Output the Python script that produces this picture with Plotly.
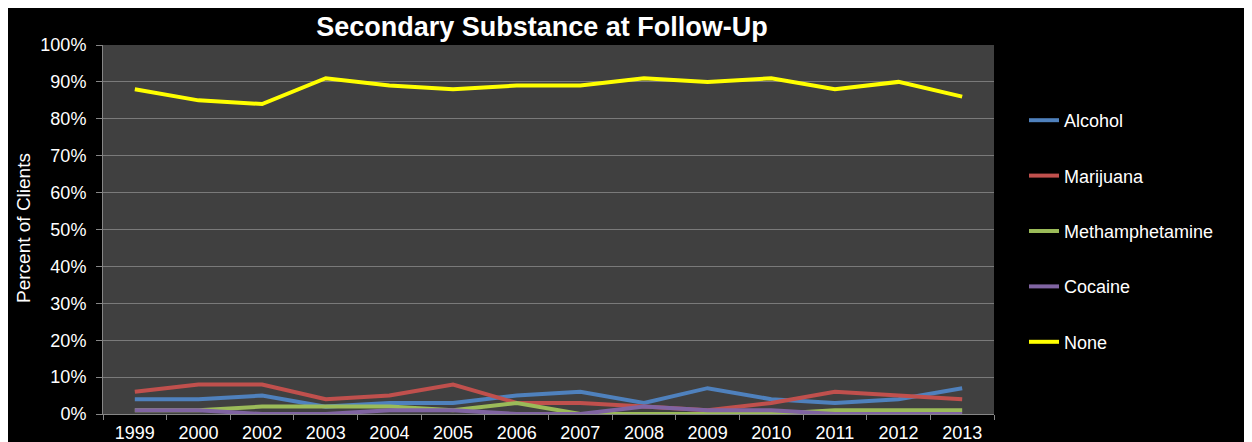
import plotly.graph_objects as go

years = ["1999", "2000", "2002", "2003", "2004", "2005", "2006",
         "2007", "2008", "2009", "2010", "2011", "2012", "2013"]
alcohol = [4, 4, 5, 2, 3, 3, 5, 6, 3, 7, 4, 3, 4, 7]
marijuana = [6, 8, 8, 4, 5, 8, 3, 3, 2, 1, 3, 6, 5, 4]
meth = [1, 1, 2, 2, 2, 1, 3, 0, 0, 0, 0, 1, 1, 1]
cocaine = [1, 1, 0, 0, 1, 1, 0, 0, 2, 1, 1, 0, 0, 0]
none_ = [88, 85, 84, 91, 89, 88, 89, 89, 91, 90, 91, 88, 90, 86]

series = [
    ("Alcohol", alcohol, "#4F81BD"),
    ("Marijuana", marijuana, "#C0504D"),
    ("Methamphetamine", meth, "#9BBB59"),
    ("Cocaine", cocaine, "#8064A2"),
    ("None", none_, "#FFFF00"),
]

FONT = "Arial, Liberation Sans, sans-serif"
OFF = 8  # page body margin
W, H = 1252 - OFF, 442 - OFF
L = 103 - OFF
R = W - (994 - OFF)
T = 45 - OFF
B = H - (414 - OFF)
PW = W - L - R
PH = H - T - B

fig = go.Figure()
for name, vals, col in series:
    fig.add_trace(go.Scatter(
        x=years, y=vals, name=name, mode="lines",
        line=dict(color=col, width=4), legendgroup=name,
    ))

fig.update_layout(
    width=W, height=H,
    margin=dict(l=L, r=R, t=T, b=B, autoexpand=False),
    paper_bgcolor="#000000",
    plot_bgcolor="#404040",
    font=dict(family=FONT, size=18, color="#ffffff"),
    title=dict(text="<b>Secondary Substance at Follow-Up</b>",
               font=dict(family=FONT, size=27, color="#ffffff"),
               x=(542 - 103) / PW, xref="paper", xanchor="center",
               y=1 - (27 - OFF) / H, yref="container", yanchor="middle"),
    showlegend=True,
    legend=dict(x=(1024 - 103) / PW, xanchor="left", y=0.5 - 1.5 / PH,
                yanchor="middle",
                font=dict(family=FONT, size=18, color="#ffffff"),
                bgcolor="rgba(0,0,0,0)", tracegroupgap=29,
                traceorder="grouped"),
    xaxis=dict(type="category", range=[-0.5, len(years) - 0.5],
               showgrid=False, showline=True, linecolor="#868686", linewidth=1,
               ticks="outside", tickson="boundaries", ticklen=5,
               tickcolor="#868686", tickfont=dict(size=18, color="#ffffff"),
               ticklabelstandoff=2, automargin=False, zeroline=False),
    yaxis=dict(range=[0, 100], dtick=10, ticksuffix="%",
               showgrid=True, gridcolor="#7a7a7a", gridwidth=1,
               showline=True, linecolor="#868686", linewidth=1,
               ticks="outside", ticklen=6, tickcolor="#868686",
               tickfont=dict(size=18, color="#ffffff"),
               ticklabelstandoff=6, automargin=False, zeroline=False),
)

fig.add_annotation(text="Percent of Clients", textangle=-90,
                   x=(23 - 103) / PW, xref="paper", xanchor="center",
                   y=(414 - 228) / PH, yref="paper", yanchor="middle",
                   showarrow=False,
                   font=dict(family=FONT, size=19, color="#ffffff"))

fig.write_html("out.html")
